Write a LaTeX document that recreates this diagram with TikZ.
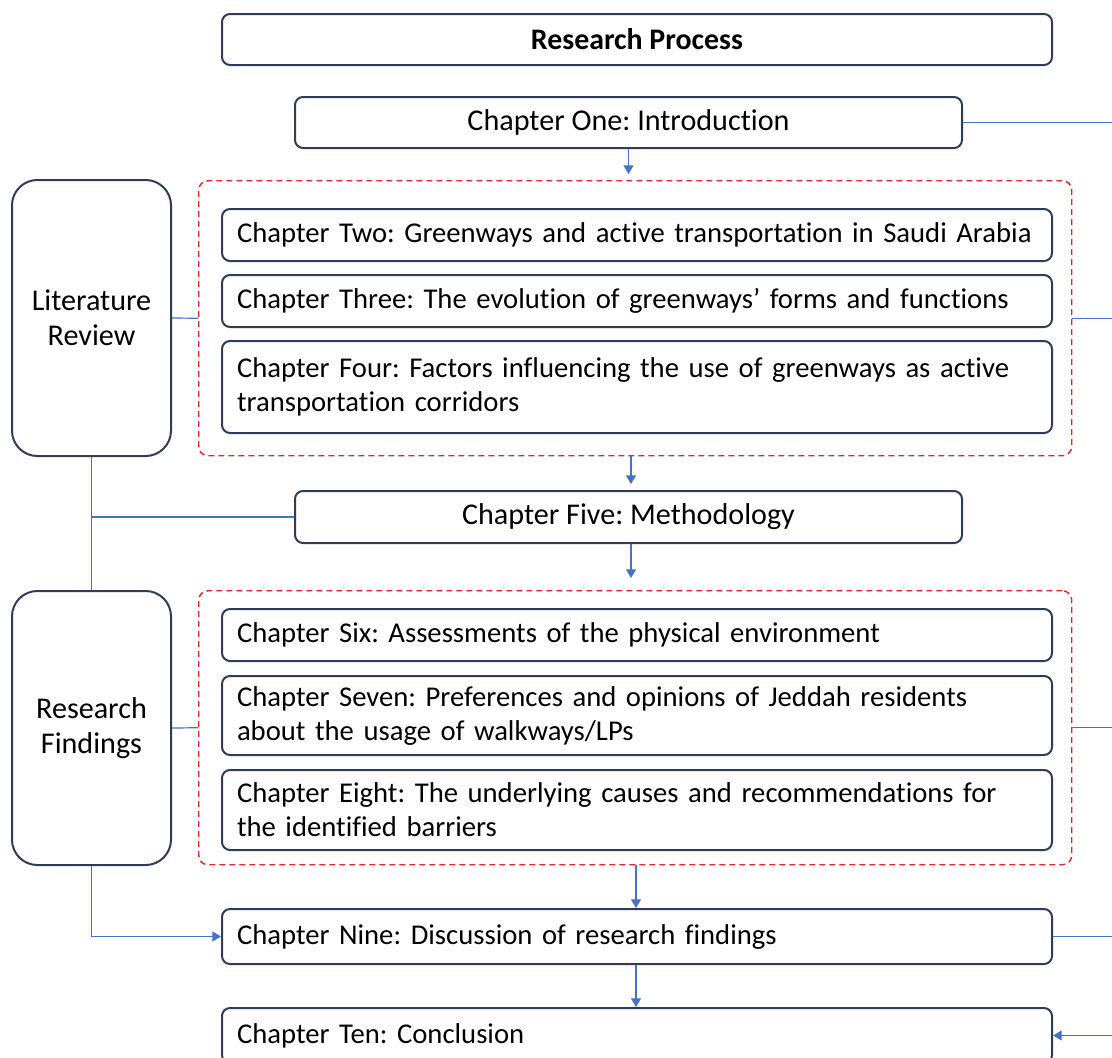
\documentclass[tikz,border=0pt]{standalone}
\usepackage{fontspec}
\setmainfont{Carlito}[Ligatures=NoCommon]
\frenchspacing
\usetikzlibrary{arrows.meta,positioning}
\definecolor{boxline}{HTML}{2F3C57}
\definecolor{linkblue}{HTML}{4472C4}
\definecolor{groupred}{HTML}{E3262B}

\begin{document}
\begin{tikzpicture}[
  x=0.75pt, y=-0.75pt,
  chapter/.style={rectangle, draw=boxline, line width=1.5pt, rounded corners=6pt, font=\fontsize{21.5}{25.5}\selectfont, inner xsep=11.25pt, inner ysep=0pt, anchor=north west},
  wide/.style={chapter, text width=600pt, align=left},
  narrow/.style={chapter, minimum width=500.25pt, align=center, font=\fontsize{22.6}{26}\selectfont},
  part/.style={rectangle, draw=boxline, line width=1.5pt, rounded corners=19pt, font=\fontsize{22.6}{26}\selectfont, align=center, minimum width=119.25pt, anchor=north west},
  group/.style={rectangle, draw=groupred, line width=1.1pt, dash pattern=on 4.5pt off 3pt, rounded corners=7pt, minimum width=654.75pt, anchor=north west},
  link/.style={draw=linkblue, line width=0.9pt},
  arrow/.style={link, -{Triangle[width=7.5pt,length=6.5pt]}}
]
\useasboundingbox (0,0) rectangle (1112,1057);
\coordinate (rim) at (1112,0);

% Title
\node[chapter, minimum width=622.5pt, minimum height=38.25pt, font=\fontsize{22.4}{26}\selectfont\bfseries] (title) at (221,13) {Research Process};

% Introduction
\node[narrow, minimum height=38.25pt] (ch1) at (294,96) {Chapter One: Introduction};

% Literature review
\node[group, minimum height=206.25pt] (grpone) at (198,180) {};
\node[wide, minimum height=39pt] (ch2) at (221,208) {Chapter Two: Greenways and active transportation in Saudi Arabia};
\node[wide, minimum height=39pt, below=9pt of ch2.south west, anchor=north west] (ch3) {Chapter Three: The evolution of greenways’ forms and functions};
\node[wide, minimum height=69pt, below=9pt of ch3.south west, anchor=north west] (ch4) {Chapter Four: Factors influencing the use of greenways as active\\transportation corridors};
\node[part, minimum height=207pt] (litrev) at (11,179) {Literature\\Review};

% Methodology
\node[narrow, minimum height=39pt] (ch5) at (294,490) {Chapter Five: Methodology};

% Research findings
\node[group, minimum height=205.5pt] (grptwo) at (198,590) {};
\node[wide, minimum height=39pt] (ch6) at (221,608) {Chapter Six: Assessments of the physical environment};
\node[wide, minimum height=59.25pt, below=9.75pt of ch6.south west, anchor=north west] (ch7) {Chapter Seven: Preferences and opinions of Jeddah residents\\about the usage of walkways/LPs};
\node[wide, minimum height=60pt, below=9.75pt of ch7.south west, anchor=north west] (ch8) {Chapter Eight: The underlying causes and recommendations for\\the identified barriers};
\node[part, minimum height=205.5pt] (resfind) at (11,590) {Research\\Findings};

% Discussion and conclusion
\node[wide, minimum height=41.25pt] (ch9) at (221,908) {Chapter Nine: Discussion of research findings};
\node[wide, minimum height=41.25pt] (ch10) at (221,1007) {Chapter Ten: Conclusion};

% Connectors
\draw[arrow, shorten >=4.5pt] (ch1.south) -- (ch1.south |- grpone.north);
\draw[arrow, shorten >=4.5pt] (grpone.south -| 631,0) -- (ch5.north -| 631,0);
\draw[arrow, shorten >=9pt] (ch5.south -| 631,0) -- (grptwo.north -| 631,0);
\draw[arrow] (grptwo.south -| 636,0) -- (ch9.north -| 636,0);
\draw[arrow] (ch9.south -| 636,0) -- (ch10.north -| 636,0);

\draw[link] (litrev.east) -- (grpone.west);
\draw[link] (resfind.east) -- (grptwo.west);
\draw[link] (litrev.south) -- (resfind.north);
\draw[link] (litrev.south |- ch5.west) -- (ch5.west);
\draw[arrow] (resfind.south) |- (ch9.west);

\draw[link] (ch1.east) -- (ch1.east -| rim);
\draw[link] (grpone.east) -- (grpone.east -| rim);
\draw[link] (grptwo.east) -- (grptwo.east -| rim);
\draw[link] (ch9.east) -- (ch9.east -| rim);
\draw[arrow] (ch10.east -| rim) -- (ch10.east);

\end{tikzpicture}
\end{document}
